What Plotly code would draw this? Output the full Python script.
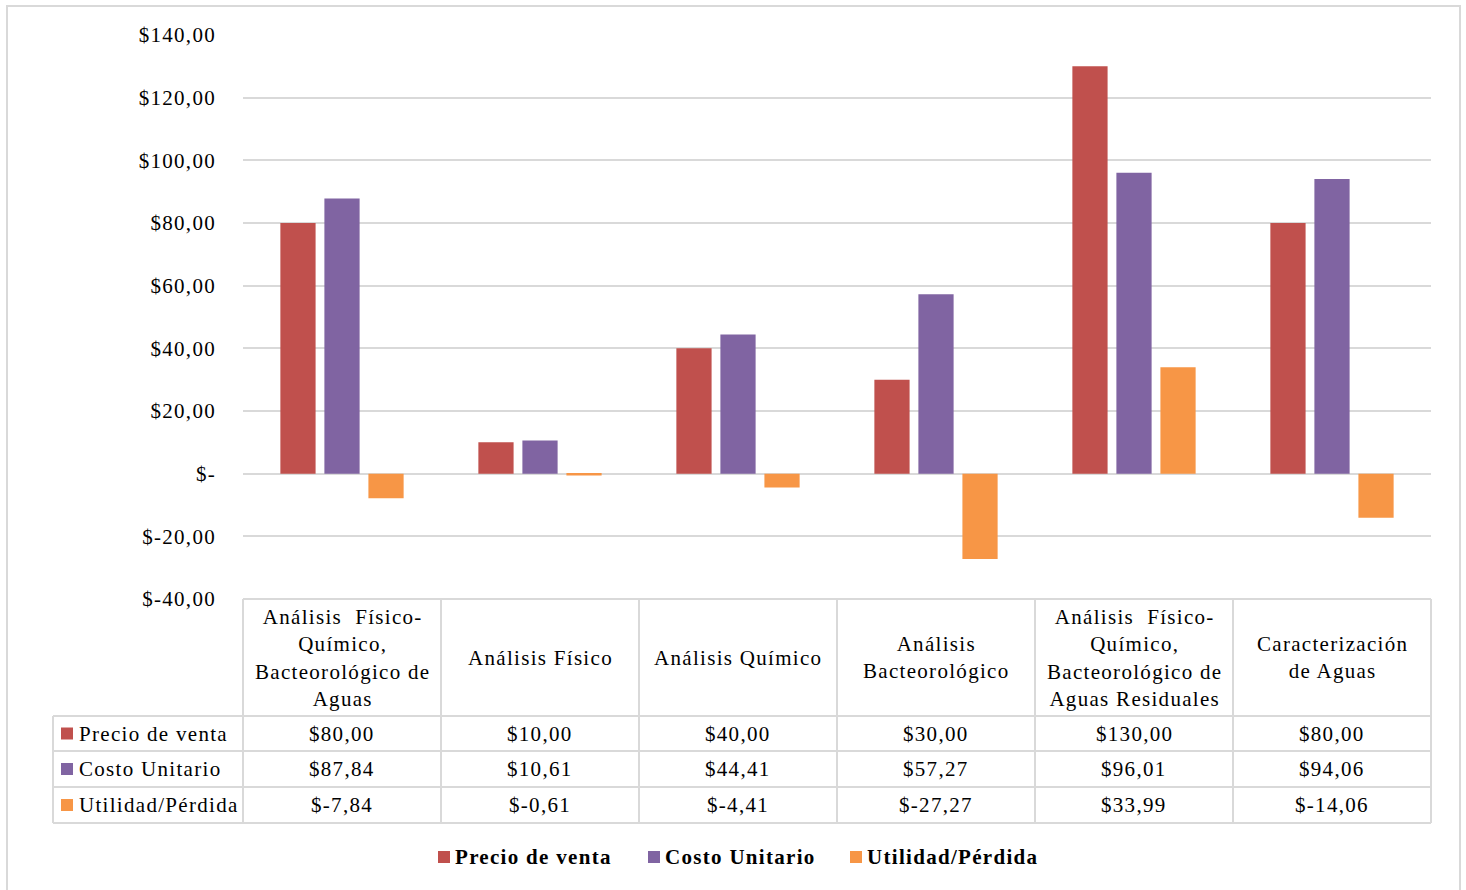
import plotly.graph_objects as go

# ---- data ---------------------------------------------------------------
categories = [
    "Análisis Físico-Químico, Bacteorológico de Aguas",
    "Análisis Físico",
    "Análisis Químico",
    "Análisis Bacteorológico",
    "Análisis Físico-Químico, Bacteorológico de Aguas Residuales",
    "Caracterización de Aguas",
]
# wrapped header text for the data table
category_headers = [
    "Análisis\u00a0\u00a0Físico-<br>Químico,<br>Bacteorológico de<br>Aguas",
    "Análisis Físico",
    "Análisis Químico",
    "Análisis<br>Bacteorológico",
    "Análisis\u00a0\u00a0Físico-<br>Químico,<br>Bacteorológico de<br>Aguas Residuales",
    "Caracterización<br>de Aguas",
]
series_names = ["Precio de venta", "Costo Unitario", "Utilidad/Pérdida"]
precio_venta = [80.00, 10.00, 40.00, 30.00, 130.00, 80.00]
costo_unitario = [87.84, 10.61, 44.41, 57.27, 96.01, 94.06]
utilidad_perdida = [-7.84, -0.61, -4.41, -27.27, 33.99, -14.06]
series_values = [precio_venta, costo_unitario, utilidad_perdida]
series_colors = ["#C0504D", "#8064A2", "#F79646"]

tick_values = [140, 120, 100, 80, 60, 40, 20, 0, -20, -40]
tick_labels = ["$140,00", "$120,00", "$100,00", "$80,00", "$60,00",
               "$40,00", "$20,00", "$-", "$-20,00", "$-40,00"]

# ---- geometry ------------------------------------------------------------
W, H = 1466, 890
ML, MR, MT, MB = 243, 35, 35, 291
PW = W - ML - MR
PH = H - MT - MB
FONT = "Liberation Serif"
GRID = "#D9D9D9"


def px_x(px):
    return (px - ML) / PW


def px_y(py):
    return (H - MB - py) / PH


def spaced(s):
    # slightly tracked-out lettering, line by line
    return "<br>".join(f'<span style="letter-spacing:1.3px">{part}</span>'
                       for part in s.split("<br>"))


def money(v):
    return f"${v:.2f}".replace(".", ",")


fig = go.Figure()
for name, vals, col in zip(series_names, series_values, series_colors):
    fig.add_trace(go.Bar(x=categories, y=vals, name=name,
                         marker=dict(color=col, line=dict(width=0)),
                         showlegend=False))

shapes = []
annotations = []

# outer chart border
shapes.append(dict(type="rect", xref="paper", yref="paper",
                   x0=px_x(7), x1=px_x(1460), y0=px_y(905), y1=px_y(6),
                   line=dict(color=GRID, width=2), layer="below"))

# data table grid
n = len(categories)
row_tops = [716, 751, 787, 823]
shapes.append(dict(type="line", xref="paper", yref="paper",
                   x0=0, x1=1, y0=px_y(599), y1=px_y(599),
                   line=dict(color=GRID, width=2)))
for py in row_tops:
    shapes.append(dict(type="line", xref="paper", yref="paper",
                       x0=px_x(53), x1=1, y0=px_y(py), y1=px_y(py),
                       line=dict(color=GRID, width=2)))
shapes.append(dict(type="line", xref="paper", yref="paper",
                   x0=px_x(53), x1=px_x(53), y0=px_y(716), y1=px_y(823),
                   line=dict(color=GRID, width=2)))
for k in range(n + 1):
    shapes.append(dict(type="line", xref="paper", yref="paper",
                       x0=k / n, x1=k / n, y0=px_y(599), y1=px_y(823),
                       line=dict(color=GRID, width=2)))

# header cells
for i, hdr in enumerate(category_headers):
    annotations.append(dict(x=i, y=px_y(657.5), xref="x", yref="paper",
                            text=spaced(hdr), showarrow=False, align="center",
                            xanchor="center", yanchor="middle",
                            font=dict(family=FONT, size=21, color="#000")))

# value rows
row_centers = [733.5, 769, 805]
for r, (name, vals, col) in enumerate(zip(series_names, series_values, series_colors)):
    cy = row_centers[r]
    shapes.append(dict(type="rect", xref="paper", yref="paper",
                       x0=px_x(61), x1=px_x(73), y0=px_y(cy + 6), y1=px_y(cy - 6),
                       fillcolor=col, line=dict(width=0)))
    annotations.append(dict(x=px_x(77), y=px_y(cy), xref="paper", yref="paper",
                            text=spaced(name), showarrow=False, xanchor="left",
                            yanchor="middle",
                            font=dict(family=FONT, size=21, color="#000")))
    for i, v in enumerate(vals):
        annotations.append(dict(x=i, y=px_y(cy), xref="x", yref="paper",
                                text=spaced(money(v)), showarrow=False,
                                xanchor="center", yanchor="middle",
                                font=dict(family=FONT, size=21, color="#000")))

# legend below the table
legend_keys = [438, 648, 850]
legend_y = 857
for name, col, kx in zip(series_names, series_colors, legend_keys):
    shapes.append(dict(type="rect", xref="paper", yref="paper",
                       x0=px_x(kx), x1=px_x(kx + 12),
                       y0=px_y(legend_y + 6), y1=px_y(legend_y - 6),
                       fillcolor=col, line=dict(width=0)))
    annotations.append(dict(x=px_x(kx + 15), y=px_y(legend_y), xref="paper",
                            yref="paper", text=f"<b>{spaced(name)}</b>",
                            showarrow=False, xanchor="left", yanchor="middle",
                            font=dict(family=FONT, size=21, color="#000")))

fig.update_layout(
    width=W, height=H,
    margin=dict(l=ML, r=MR, t=MT, b=MB, pad=0),
    paper_bgcolor="white", plot_bgcolor="white",
    barmode="group", bargap=0.333, bargroupgap=0.2,
    shapes=shapes, annotations=annotations,
    showlegend=False,
    font=dict(family=FONT, size=21, color="#000"),
)
fig.update_xaxes(range=[-0.5, n - 0.5], showticklabels=False, showgrid=False,
                 zeroline=False, showline=False, ticks="")
fig.update_yaxes(range=[-40, 140], tickvals=tick_values,
                 ticktext=[spaced(t) for t in tick_labels],
                 showgrid=True, gridcolor=GRID, gridwidth=1.5,
                 zeroline=True, zerolinecolor=GRID, zerolinewidth=1.5,
                 showline=False, ticks="", ticklabelstandoff=26,
                 tickfont=dict(family=FONT, size=21, color="#000"))

fig.write_html("out.html")
